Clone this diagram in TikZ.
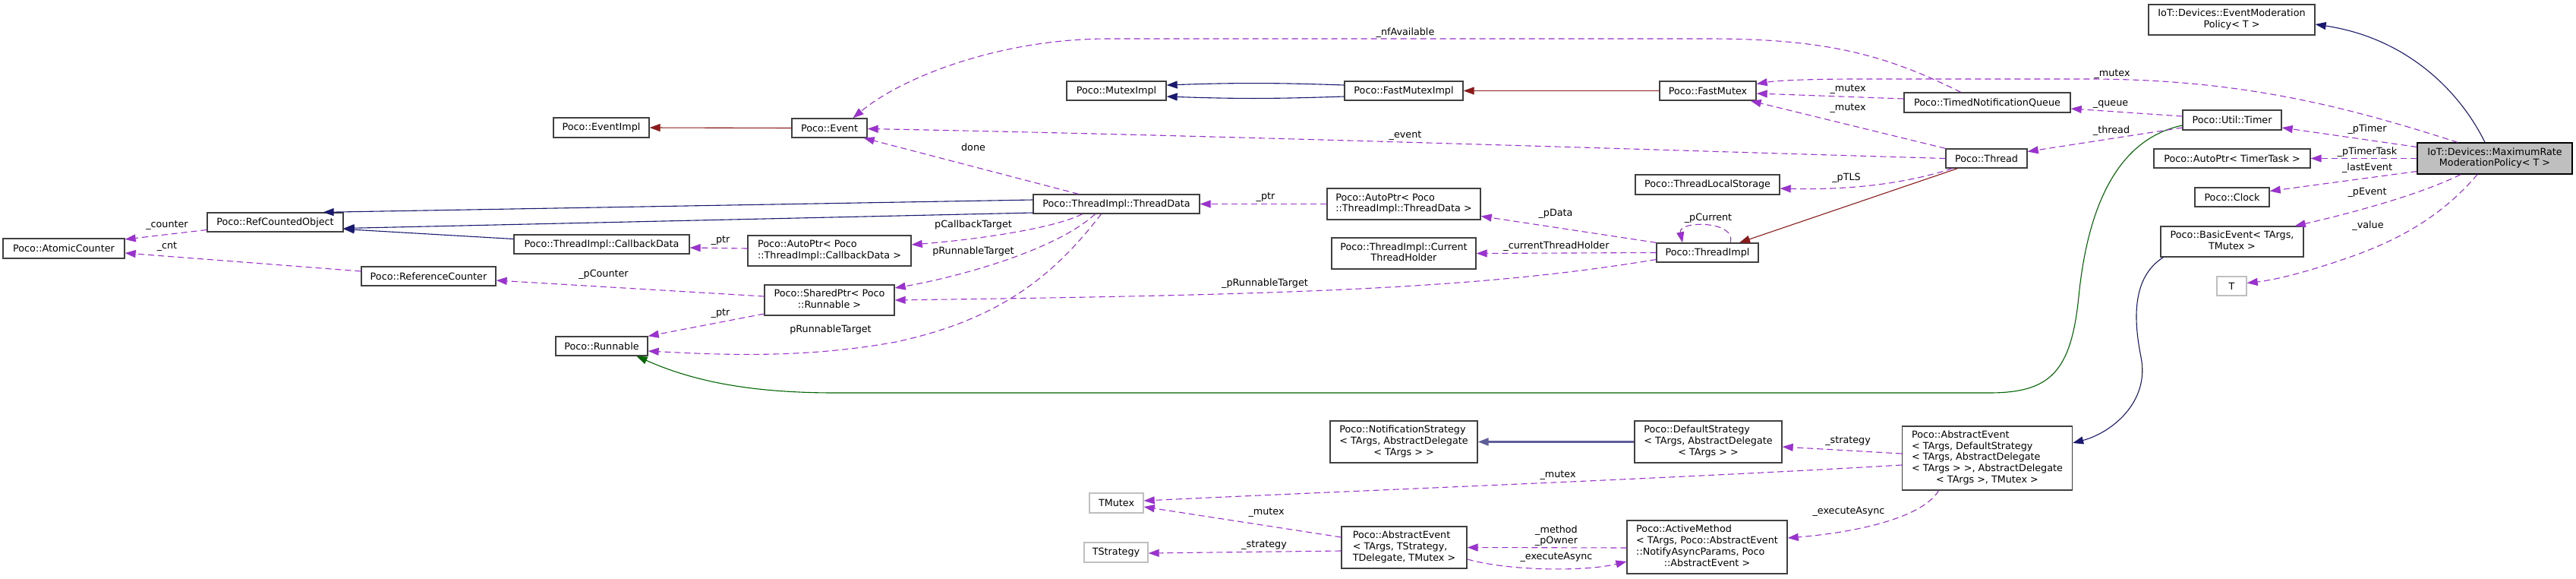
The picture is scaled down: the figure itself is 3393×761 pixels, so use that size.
\documentclass[tikz,border=0pt]{standalone}
\usepackage{fontspec}
\setmainfont{DejaVu Sans}
\usetikzlibrary{arrows.meta}
\definecolor{usecol}{HTML}{9A32CD}
\definecolor{inhcol}{HTML}{191970}
\definecolor{privcol}{HTML}{8B1A1A}
\definecolor{protcol}{HTML}{006400}
\definecolor{gfill}{HTML}{BFBFBF}
\newcommand{\dfnt}{\fontsize{12.75}{14.7}\selectfont}
\newcommand{\mlab}[2]{\begin{tabular}{@{}l@{}}#1\\\multicolumn{1}{@{}c@{}}{#2}\end{tabular}}
\begin{document}
\begin{tikzpicture}[x=1pt,y=-1pt,
  box/.style={draw=black!75, fill=white, line width=1.3pt, inner sep=0pt, font=\dfnt, text=black},
  gbox/.style={box, draw=gfill},
  lbl/.style={inner sep=0pt, font=\dfnt, text=black},
  tip/.style={-{Triangle[length=14pt,width=10pt]}},
  use/.style={draw=usecol, line width=1.1pt, dash pattern=on 8pt off 5pt, tip},
  inh/.style={draw=inhcol, line width=1.1pt, tip},
  priv/.style={draw=privcol, line width=1.1pt, tip},
  prot/.style={draw=protcol, line width=1.1pt, tip}]
\fill[white] (0,0) rectangle (3393,761);
\useasboundingbox (0,0) rectangle (3393,761);

% nodes
\node[box, minimum width=219pt, minimum height=40pt] (emp) at (2939.5,26) {\mlab{IoT::Devices::EventModeration}{Policy< T >}};
\node[box, fill=gfill, draw=black, minimum width=204pt, minimum height=41pt] (mrp) at (3286,208.5) {\mlab{IoT::Devices::MaximumRate}{ModerationPolicy< T >}};
\node[box, minimum width=130pt, minimum height=26pt] (tmr) at (2940,158) {Poco::Util::Timer};
\node[box, minimum width=206pt, minimum height=25pt] (aptt) at (2940,208.5) {Poco::AutoPtr< TimerTask >};
\node[box, minimum width=98pt, minimum height=25pt] (clk) at (2940,259.5) {Poco::Clock};
\node[box, minimum width=188pt, minimum height=40pt] (bev) at (2940,318) {\mlab{Poco::BasicEvent< TArgs,}{TMutex >}};
\node[gbox, minimum width=39pt, minimum height=25pt] (tt) at (2939.5,376.5) {T};
\node[box, minimum width=219pt, minimum height=26pt] (tnq) at (2617.5,135) {Poco::TimedNotificationQueue};
\node[box, minimum width=107pt, minimum height=25pt] (thr) at (2616.5,208.5) {Poco::Thread};
\node[box, minimum width=127pt, minimum height=25pt] (fm) at (2249.5,119.5) {Poco::FastMutex};
\node[box, minimum width=156pt, minimum height=25pt] (fmi) at (1849,119.5) {Poco::FastMutexImpl};
\node[box, minimum width=131pt, minimum height=25pt] (mi) at (1470.5,119.5) {Poco::MutexImpl};
\node[box, minimum width=126pt, minimum height=26pt] (evi) at (792,168) {Poco::EventImpl};
\node[box, minimum width=99pt, minimum height=25pt] (ev) at (1092.5,168.5) {Poco::Event};
\node[box, minimum width=190pt, minimum height=26pt] (tls) at (2249,243) {Poco::ThreadLocalStorage};
\node[box, minimum width=134pt, minimum height=25pt] (ti) at (2249,332.5) {Poco::ThreadImpl};
\node[box, minimum width=190pt, minimum height=41pt] (cth) at (1849,333.5) {\mlab{Poco::ThreadImpl::Current}{ThreadHolder}};
\node[box, minimum width=202pt, minimum height=41pt] (aptd) at (1849,268.5) {\mlab{Poco::AutoPtr< Poco}{::ThreadImpl::ThreadData >}};
\node[box, minimum width=219pt, minimum height=25pt] (td) at (1470.5,268.5) {Poco::ThreadImpl::ThreadData};
\node[box, minimum width=179pt, minimum height=25pt] (rco) at (362.5,292.5) {Poco::RefCountedObject};
\node[box, minimum width=160pt, minimum height=26pt] (ac) at (84,327) {Poco::AtomicCounter};
\node[box, minimum width=231pt, minimum height=25pt] (cbd) at (792.5,321.5) {Poco::ThreadImpl::CallbackData};
\node[box, minimum width=215pt, minimum height=40pt] (apcd) at (1092.5,330) {\mlab{Poco::AutoPtr< Poco}{::ThreadImpl::CallbackData >}};
\node[box, minimum width=177pt, minimum height=25pt] (rc) at (564.5,363.5) {Poco::ReferenceCounter};
\node[box, minimum width=171pt, minimum height=40pt] (sp) at (1092.5,395) {\mlab{Poco::SharedPtr< Poco}{::Runnable >}};
\node[box, minimum width=121pt, minimum height=25pt] (run) at (792.5,455.5) {Poco::Runnable};
\node[box, minimum width=194pt, minimum height=55pt] (ns) at (1849,581.5) {\mlab{Poco::NotificationStrategy\\< TArgs, AbstractDelegate}{< TArgs > >}};
\node[box, minimum width=194pt, minimum height=55pt] (ds) at (2250,581.5) {\mlab{Poco::DefaultStrategy\\< TArgs, AbstractDelegate}{< TArgs > >}};
\node[box, minimum width=224pt, minimum height=84pt] (aed) at (2617.5,603) {\mlab{Poco::AbstractEvent\\< TArgs, DefaultStrategy\\< TArgs, AbstractDelegate\\< TArgs > >, AbstractDelegate}{< TArgs >, TMutex >}};
\node[gbox, minimum width=71pt, minimum height=26pt] (tmx) at (1470.5,662) {TMutex};
\node[gbox, minimum width=84pt, minimum height=26pt] (tst) at (1470,727) {TStrategy};
\node[box, minimum width=165pt, minimum height=55pt] (aets) at (1849.5,720.5) {\mlab{Poco::AbstractEvent\\< TArgs, TStrategy,}{TDelegate, TMutex >}};
\node[box, minimum width=211pt, minimum height=70pt] (am) at (2248.5,720) {\mlab{Poco::ActiveMethod\\< TArgs, Poco::AbstractEvent\\::NotifyAsyncParams, Poco}{::AbstractEvent >}};

% inheritance (public)
\draw[inh] ([shift={(-13,0)}]mrp.north) .. controls (3240,120) and (3170,50) .. ([shift={(0,6)}]emp.east);
\draw[inh] ([shift={(0,-5.5)}]td.west) -- ([shift={(-27,0)}]rco.north east);
\draw[inh] ([shift={(0,11.5)}]td.west) -- ([shift={(0,8)}]rco.east);
\draw[inh] ([shift={(0,-7)}]cbd.west) -- ([shift={(0,9)}]rco.east);
\draw[inh] ([shift={(0,-7.5)}]fmi.west) to[bend right=2] ([shift={(0,-7.5)}]mi.east);
\draw[inh] ([shift={(0,7.5)}]fmi.west) to[bend left=2] ([shift={(0,7.5)}]mi.east);
\draw[inh, draw=inhcol!70, line width=2.5pt] (ds.west) -- (ns.east);
\draw[inh] ([shift={(4,0)}]bev.south west) .. controls (2808,365) and (2810,420) .. (2820,470) .. controls (2832,530) and (2780,570) .. ([shift={(0,-20)}]aed.east);
% private
\draw[priv] (ev.west) -- (evi.east);
\draw[priv] (fm.west) -- (fmi.east);
\draw[priv] ([shift={(-38,0)}]thr.south) -- ([shift={(42,0)}]ti.north);
% protected
\draw[prot] ([shift={(0,7)}]tmr.west) .. controls (2780,185) and (2748,290) .. (2738,390) .. controls (2728,490) and (2700,517) .. (2620,517) -- (1100,517) .. controls (1000,517) and (920,505) .. ([shift={(46,0)}]run.south);

% usage
\draw[use] ([shift={(-49,0)}]mrp.north) .. controls (3090,140) and (2950,104) .. (2750,104) -- (2450,104) .. controls (2380,104) and (2340,106) .. ([shift={(0,-9)}]fm.east);
\draw[use] ([shift={(0,-5)}]tnq.west) -- ([shift={(0,3.5)}]fm.east);
\draw[use] (thr.north west) -- ([shift={(-8,0)}]fm.south east);
\draw[use] ([shift={(-35,0)}]tnq.north) .. controls (2480,70) and (2400,51) .. (2250,51) -- (1460,51) .. controls (1320,51) and (1190,100) .. ([shift={(31,0)}]ev.north);
\draw[use] (thr.west) .. controls (2200,198) and (1600,178) .. ([shift={(0,1)}]ev.east);
\draw[use] ([shift={(-50,0)}]td.north) -- ([shift={(-5,0)}]ev.south east);
\draw[use] ([shift={(0,-5)}]tmr.west) -- ([shift={(0,8)}]tnq.east);
\draw[use] ([shift={(0,10)}]tmr.west) -- ([shift={(0,-9)}]thr.east);
\draw[use] ([shift={(0,-15)}]mrp.west) -- ([shift={(0,10)}]tmr.east);
\draw[use] (mrp.west) -- (aptt.east);
\draw[use] ([shift={(0,17)}]mrp.west) -- ([shift={(0,-8)}]clk.east);
\draw[use] ([shift={(-45,0)}]mrp.south) .. controls (3190,255) and (3100,280) .. ([shift={(-12,0)}]bev.north east);
\draw[use] ([shift={(-23,0)}]mrp.south) .. controls (3220,280) and (3170,310) .. (3110,333) .. controls (3050,355) and (3000,368) .. ([shift={(0,-4)}]tt.east);
\draw[use] ([shift={(-45,0)}]thr.south) .. controls (2500,245) and (2420,250) .. ([shift={(0,5)}]tls.east);
\draw[use] (ti.north west) -- ([shift={(0,16)}]aptd.east);
\draw[use] ([shift={(30,0)}]ti.north) .. controls (2288,290) and (2210,290) .. ([shift={(-33,0)}]ti.north);
\draw[use] (ti.west) -- (cth.east);
\draw[use] ([shift={(0,9)}]ti.west) .. controls (1950,380) and (1700,388) .. (sp.east);
\draw[use] (aptd.west) -- (td.east);
\draw[use] ([shift={(-45,0)}]td.south) .. controls (1390,300) and (1290,315) .. ([shift={(0,-8)}]apcd.east);
\draw[use] ([shift={(-28,0)}]td.south) .. controls (1390,330) and (1260,365) .. ([shift={(0,-16)}]sp.east);
\draw[use] ([shift={(-20,0)}]td.south) .. controls (1390,360) and (1320,420) .. (1180,450) .. controls (1060,472) and (950,467) .. ([shift={(0,6.5)}]run.east);
\draw[use] ([shift={(0,-3)}]apcd.west) -- ([shift={(0,4.5)}]cbd.east);
\draw[use] ([shift={(0,-5)}]sp.west) -- ([shift={(0,5.5)}]rc.east);
\draw[use] ([shift={(0,18)}]sp.west) -- (run.north east);
\draw[use] ([shift={(0,10)}]rco.west) -- ([shift={(0,-12)}]ac.east);
\draw[use] ([shift={(0,-6.5)}]rc.west) -- ([shift={(0,6)}]ac.east);
\draw[use] ([shift={(0,-6)}]aed.west) -- ([shift={(0,6.5)}]ds.east);
\draw[use] ([shift={(0,9)}]aed.west) .. controls (2200,630) and (1800,645) .. ([shift={(0,-3)}]tmx.east);
\draw[use] ([shift={(-64,0)}]aed.south) .. controls (2530,685) and (2430,702) .. ([shift={(0,-12)}]am.east);
\draw[use] ([shift={(0,-13.5)}]aets.west) -- ([shift={(0,5)}]tmx.east);
\draw[use] ([shift={(0,4.5)}]aets.west) -- ([shift={(0,1)}]tst.east);
\draw[use] ([shift={(0,1)}]am.west) -- (aets.east);
\draw[use] ([shift={(0,15.5)}]aets.east) .. controls (1990,752) and (2090,752) .. ([shift={(0,19)}]am.west);

% labels
\node[lbl] (l1) at (2782,98) {\_mutex};
\node[lbl] (l2) at (2434,118) {\_mutex};
\node[lbl] (l3) at (2434,143) {\_mutex};
\node[lbl] (l4) at (1851,43) {\_nfAvailable};
\node[lbl] (l5) at (1851,179) {\_event};
\node[lbl] (l6) at (1282,194) {done};
\node[lbl] (l7) at (2780,137) {\_queue};
\node[lbl] (l8) at (2781,172) {\_thread};
\node[lbl] (l9) at (3118,170) {\_pTimer};
\node[lbl] (l10) at (3118,200) {\_pTimerTask};
\node[lbl] (l11) at (3118,221) {\_lastEvent};
\node[lbl] (l12) at (3118,253) {\_pEvent};
\node[lbl] (l13) at (3119,297) {\_value};
\node[lbl] (l14) at (2432,234) {\_pTLS};
\node[lbl] (l15) at (2049,281) {\_pData};
\node[lbl] (l16) at (2250,287) {\_pCurrent};
\node[lbl] (l17) at (2050,324) {\_currentThreadHolder};
\node[lbl] (l18) at (1666,373) {\_pRunnableTarget};
\node[lbl] (l19) at (1667,260) {\_ptr};
\node[lbl] (l20) at (1282,296) {pCallbackTarget};
\node[lbl] (l21) at (1282,331) {pRunnableTarget};
\node[lbl] (l22) at (1094,434) {pRunnableTarget};
\node[lbl] (l23) at (949,317) {\_ptr};
\node[lbl] (l24) at (795,361) {\_pCounter};
\node[lbl] (l25) at (949,413) {\_ptr};
\node[lbl] (l26) at (220,297) {\_counter};
\node[lbl] (l27) at (220,325) {\_cnt};
\node[lbl] (l28) at (2434,581) {\_strategy};
\node[lbl] (l29) at (2052,626) {\_mutex};
\node[lbl] (l30) at (2435,673) {\_executeAsync};
\node[lbl] (l31) at (1668,675) {\_mutex};
\node[lbl] (l32) at (1665,718) {\_strategy};
\node[lbl, align=center] (l33) at (2050,705) {\_method\\\_pOwner};
\node[lbl] (l34) at (2050,733) {\_executeAsync};
\end{tikzpicture}
\end{document}
